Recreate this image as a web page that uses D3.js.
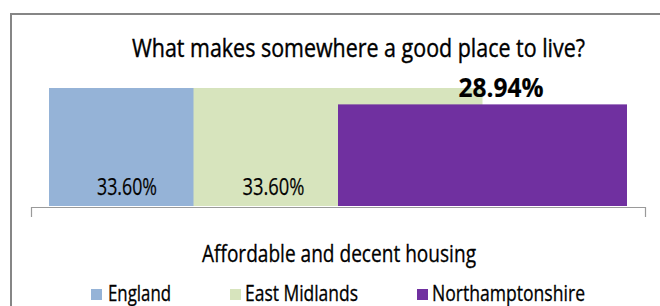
<!DOCTYPE html>
<html>
<head>
<meta charset="utf-8">
<script src="https://cdn.jsdelivr.net/npm/d3@7"></script>
<style>
  html, body { margin: 0; padding: 0; background: #fff; }
  svg { display: block; }
  text { font-family: "Open Sans", "Liberation Sans", sans-serif; fill: #000; }
</style>
</head>
<body>
<svg id="chart" width="660" height="306"></svg>
<script>
// ---- data ----
const title = "What makes somewhere a good place to live?";
const categories = ["Affordable and decent housing"];
const seriesNames = ["England", "East Midlands", "Northamptonshire"];
const seriesValues = [33.60, 33.60, 28.94];
const valueLabels = ["33.60%", "33.60%", "28.94%"];
const seriesColors = ["#95B3D7", "#D7E4BD", "#7030A0"];

// ---- layout ----
const svg = d3.select("#chart");
const plot = { left: 31, right: 645, base: 207 };
const overlap = 0.5;     // Excel series overlap
const gapSide = 18;      // gap between band edge and cluster

const x0 = d3.scaleBand().domain(categories).range([plot.left, plot.right]).paddingInner(0).paddingOuter(0);
const y = d3.scaleLinear().domain([0, 35]).range([plot.base - 1, plot.base - 1 - 122.9]);

// frame
svg.append("path")
  .attr("d", "M11,310V14H662")
  .attr("fill", "none")
  .attr("stroke", "#868686")
  .attr("stroke-width", 2);

// title
svg.append("text")
  .attr("x", 358.5).attr("y", 57)
  .attr("text-anchor", "middle")
  .attr("font-family", "Roboto, 'Open Sans', sans-serif")
  .attr("font-size", 25)
  .attr("stroke", "#000").attr("stroke-width", 0.4)
  .attr("textLength", 453).attr("lengthAdjust", "spacingAndGlyphs")
  .text(title);

// bars
const n = seriesNames.length;
const clusterW = x0.bandwidth() - 2 * gapSide;
const barW = clusterW / (1 + (n - 1) * (1 - overlap));
const step = barW * (1 - overlap);
const barX = i => x0(categories[0]) + gapSide + i * step;

svg.append("g").selectAll("rect")
  .data(seriesValues)
  .join("rect")
  .attr("x", (d, i) => barX(i))
  .attr("width", barW)
  .attr("y", d => y(d))
  .attr("height", d => y(0) - y(d))
  .attr("fill", (d, i) => seriesColors[i]);

// axis (category axis with outer ticks)
const axis = d3.axisBottom(x0).tickSizeInner(0).tickSizeOuter(10).tickPadding(0);
const gAxis = svg.append("g").attr("transform", `translate(0,${plot.base})`).call(axis);
gAxis.select(".domain").attr("stroke", "#9a9a9a").attr("stroke-width", 1.2);
gAxis.selectAll(".tick text")
  .attr("x", 1)
  .attr("y", 55).attr("dy", 0)
  .attr("font-size", 23)
  .attr("font-family", "Open Sans, Liberation Sans, sans-serif")
  .attr("fill", "#000")
  .attr("stroke", "#000").attr("stroke-width", 0.3)
  .attr("textLength", 274).attr("lengthAdjust", "spacingAndGlyphs");

// value labels
const labelSpec = [
  { dx: 78, y: 195, size: 24, weight: "normal", len: 60 },
  { dx: 80, y: 195, size: 24, weight: "normal", len: 62 },
  { dx: 163, y: 97, size: 27, weight: "bold", len: 85 }
];
svg.append("g").selectAll("text")
  .data(valueLabels)
  .join("text")
  .attr("x", (d, i) => barX(i) + labelSpec[i].dx)
  .attr("y", (d, i) => labelSpec[i].y)
  .attr("text-anchor", "middle")
  .attr("font-size", (d, i) => labelSpec[i].size)
  .attr("font-weight", (d, i) => labelSpec[i].weight)
  .attr("fill", "#1a1a1a")
  .attr("stroke", "#1a1a1a").attr("stroke-width", (d, i) => i < 2 ? 0.25 : 0.2)
  .attr("textLength", (d, i) => labelSpec[i].len)
  .attr("lengthAdjust", "spacingAndGlyphs")
  .text(d => d);

// legend
const legendSpec = [
  { sx: 91, tx: 108, len: 63 },
  { sx: 230, tx: 245, len: 113 },
  { sx: 417, tx: 432, len: 153 }
];
const lg = svg.append("g");
seriesNames.forEach((name, i) => {
  lg.append("rect")
    .attr("x", legendSpec[i].sx).attr("y", 289)
    .attr("width", 11).attr("height", 11)
    .attr("fill", seriesColors[i]);
  lg.append("text")
    .attr("x", legendSpec[i].tx + legendSpec[i].len / 2).attr("y", 301)
    .attr("text-anchor", "middle")
    .attr("font-size", 21)
    .attr("stroke", "#000").attr("stroke-width", 0.3)
    .attr("textLength", legendSpec[i].len).attr("lengthAdjust", "spacingAndGlyphs")
    .text(name);
});
</script>
</body>
</html>
